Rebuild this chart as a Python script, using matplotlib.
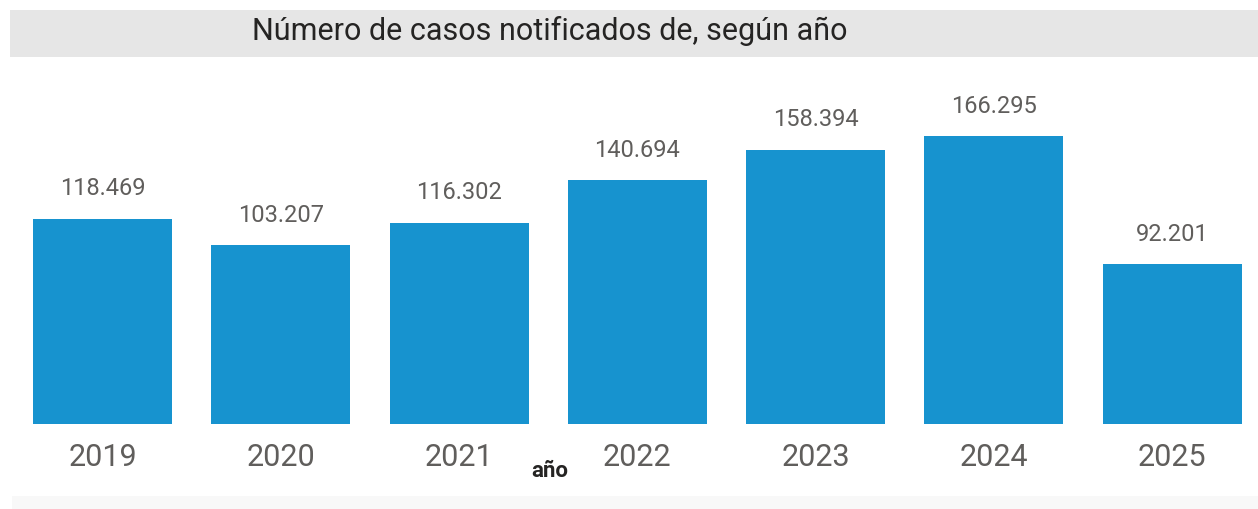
import matplotlib.pyplot as plt
from matplotlib.patches import Rectangle

plt.rcParams['font.family'] = ['Roboto', 'DejaVu Sans']

years = ["2019", "2020", "2021", "2022", "2023", "2024", "2025"]
casos = [118469, 103207, 116302, 140694, 158394, 166295, 92201]
etiquetas = ["118.469", "103.207", "116.302", "140.694", "158.394", "166.295", "92.201"]

W, H = 1258, 510
fig = plt.figure(figsize=(W / 100, H / 100), dpi=100)
fig.patch.set_facecolor("white")

# franja del titulo
fig.patches.append(Rectangle((10 / W, 1 - 58 / H), 1 - 10 / W, 47 / H,
                             transform=fig.transFigure, facecolor="#E6E6E6",
                             edgecolor="none", zorder=0))
# franja inferior
fig.patches.append(Rectangle((12 / W, 0), 1 - 12 / W, 13 / H,
                             transform=fig.transFigure, facecolor="#F8F8F8",
                             edgecolor="none", zorder=0))

fig.text(550 / W, 1 - 31 / H, "Número de casos notificados de, según año",
         ha="center", va="center", fontsize=22, color="#252423")

# ejes: base en y=425 px, 178.3 px por categoria
ax = fig.add_axes([13.3 / W, (H - 425) / H, (W - 13.3) / W, 346.4 / H])
ax.set_facecolor("none")
x = range(len(years))
ax.bar(x, casos, width=0.78, color="#1793CF")
ax.set_xlim(-0.5, -0.5 + (W - 13.3) / 178.3)
ax.set_ylim(0, 200000)

for i, v in enumerate(casos):
    ax.annotate(etiquetas[i], (i, v), xytext=(0, 14), textcoords="offset points",
                ha="center", va="bottom", fontsize=17, color="#605E5C")

ax.set_xticks(list(x))
ax.set_xticklabels(years, fontsize=22, color="#605E5C")
ax.tick_params(axis="x", length=0, pad=13)
ax.set_yticks([])
for s in ax.spines.values():
    s.set_visible(False)

fig.text(550 / W, 1 - 471 / H, "año", ha="center", va="center",
         fontsize=16, fontweight="bold", color="#252423")

fig.savefig("out.png", dpi=100)
